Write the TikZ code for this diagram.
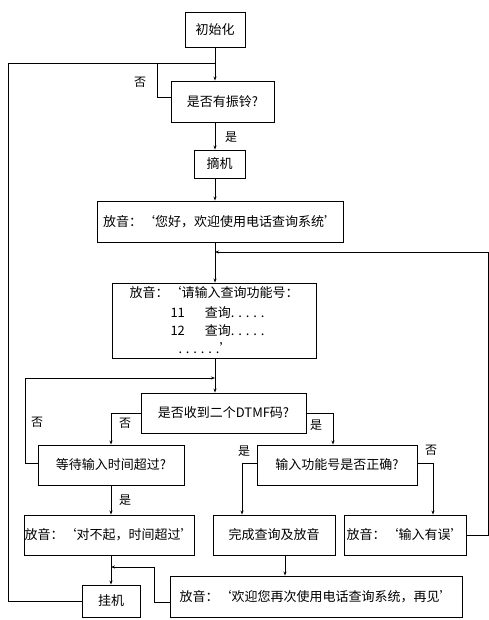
\documentclass[tikz,border=0pt]{standalone}
\usepackage{fontspec}
\setmainfont{Noto Sans CJK SC}
\usetikzlibrary{arrows.meta}
\begin{document}
\begin{tikzpicture}[x=1pt,y=-1pt,
  box/.style={draw,line width=0.9pt,inner sep=0pt,font=\fontsize{13pt}{18pt}\selectfont},
  lbl/.style={font=\fontsize{12pt}{14pt}\selectfont,inner sep=0pt},
  flow/.style={line width=0.8pt},
  arr/.style={flow,-{Stealth[length=4pt,width=3pt]}}]
\useasboundingbox (0,0) rectangle (489,620);
\fill[white] (0,0) rectangle (489,620);
% nodes
\node[box,minimum width=60pt,minimum height=35pt] (init) at (215,29.5) {初始化};
\node[box,minimum width=103pt,minimum height=41pt] (ring) at (222.5,101.5) {是否有振铃?};
\node[box,minimum width=51pt,minimum height=28pt] (off) at (219.5,164) {摘机};
\node[box,minimum width=246pt,minimum height=41pt] (greet) at (220,221.5) {放音：‘您好，欢迎使用电话查询系统’};
\node[box,minimum width=204pt,minimum height=75pt,align=left] (prompt) at (214,320.5)
  {放音：‘请输入查询功能号：\\[2pt]
   \hspace*{41pt}11\hspace*{20pt}查询. . . . .\\
   \hspace*{41pt}12\hspace*{20pt}查询. . . . .\\
   \hspace*{49pt}. . . . . .’};
\node[box,minimum width=165pt,minimum height=40pt] (dtmf) at (223.5,413) {是否收到二个DTMF码?};
\node[box,minimum width=146pt,minimum height=40pt] (wait) at (111,465) {等待输入时间超过?};
\node[box,minimum width=160pt,minimum height=40pt] (check) at (337,465) {输入功能号是否正确?};
\node[box,minimum width=170pt,minimum height=40pt] (sorry) at (109,535) {放音：‘对不起，时间超过’};
\node[box,minimum width=122pt,minimum height=40pt] (done) at (274,535) {完成查询及放音};
\node[box,minimum width=122pt,minimum height=40pt] (err) at (405,535) {放音：‘输入有误’};
\node[box,minimum width=58pt,minimum height=32pt] (hang) at (111,601) {挂机};
\node[box,minimum width=292pt,minimum height=41pt] (bye) at (316,596.5) {放音：‘欢迎您再次使用电话查询系统，再见’};
% helper coordinates
\coordinate (sx) at (215,0);
\coordinate (top) at (215,63);
\coordinate (lt) at (8,63);
\coordinate (nol) at (157,63);
\coordinate (rjoin) at (215,252);
\coordinate (rr) at (488,252);
\coordinate (ljoin) at (215,378);
\coordinate (ll) at (25,378);
\coordinate (hj) at (111,567);
\coordinate (hb) at (154,567);
% connectors
\draw[arr] (init.south) -- (sx |- ring.north);
\draw[flow] (hang.west) -| (lt) -- (top);
\draw[flow] ([yshift=4.5pt]ring.west) -| (nol);
\node[lbl] at (140,82) {否};
\draw[arr] (sx |- ring.south) -- (sx |- off.north);
\node[lbl] at (231,137) {是};
\draw[arr] (sx |- off.south) -- (sx |- greet.north);
\draw[arr] (sx |- greet.south) -- (sx |- prompt.north);
\draw[arr] (sx |- prompt.south) -- (sx |- dtmf.north);
\draw[arr] (err.east) -| (rr) -- (rjoin);
\draw[arr] ([yshift=2pt]wait.west) -| (ll) -- (ljoin);
\node[lbl] at (37,422) {否};
\draw[arr] (dtmf.west) -| (wait.north);
\node[lbl] at (125,423) {否};
\draw[arr] (dtmf.east) -| ([xshift=-4pt]check.north);
\node[lbl] at (316,425) {是};
\draw[arr] (wait.south) -- (wait.south |- sorry.north);
\node[lbl] at (125,500) {是};
\draw[arr] ([yshift=2pt]check.west) -| ([xshift=-32pt]done.north);
\node[lbl] at (244,451) {是};
\draw[arr] ([yshift=2pt]check.east) -| ([xshift=28pt]err.north);
\node[lbl] at (431,450) {否};
\draw[arr] (wait.south |- sorry.south) -- (wait.south |- hang.north);
\draw[arr] ([xshift=11pt]done.south) -- ([xshift=11pt]done.south |- bye.north);
\draw[arr] ([yshift=-5.5pt]bye.west) -| (hb) -- (hj);
\end{tikzpicture}
\end{document}
